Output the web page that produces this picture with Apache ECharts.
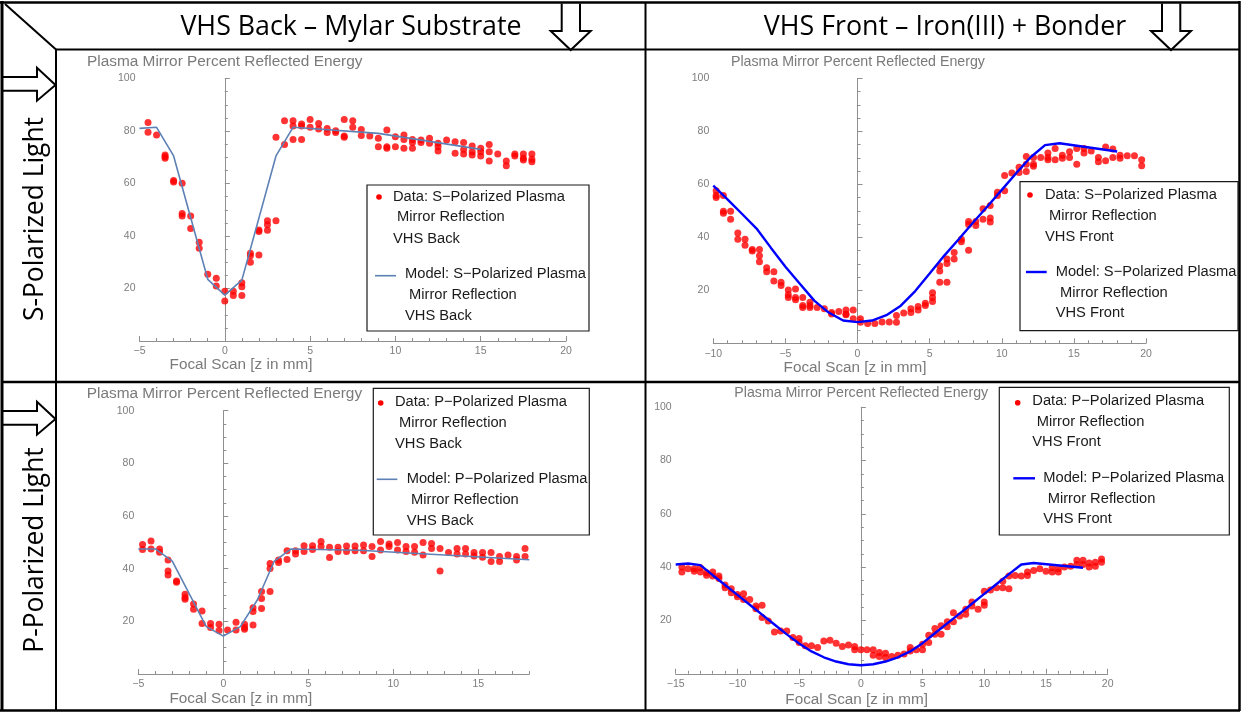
<!DOCTYPE html>
<html>
<head>
<meta charset="utf-8">
<script src="https://cdn.jsdelivr.net/npm/echarts@6/dist/echarts.min.js"></script>
<style>
  html, body { margin: 0; padding: 0; background: #ffffff; }
  #chart { width: 1244px; height: 712px; }
</style>
</head>
<body>
<div id="chart"></div>
<script>
// ---- Measured reflectance (percent) vs focal position z (mm) ----
const sBackData = [
  [-4.5,83.2],[-4.5,79.5],[-4,78.5],
  [-3.5,70.9],[-3.5,70.2],[-3.5,69.6],
  [-3,61.1],[-3,60.6],
  [-2.5,60.1],[-2.5,48.6],[-2.5,47.6],
  [-2,47.6],[-2,42.9],
  [-1.5,37.6],[-1.5,35.3],
  [-1,25.4],
  [-0.5,23.9],[-0.5,21.0],
  [0,19.0],[0,15.2],
  [0.5,19.0],[0.5,17.3],
  [1,22.2],[1,20.7],[1,17.3],
  [1.5,33.4],[1.5,32.5],[1.5,30.0],
  [2,42.3],[2,41.7],[2,32.8],
  [2.5,45.8],[2.5,44.3],[2.5,42.2],
  [3,45.8],[3,77.6],
  [3.5,83.9],[3.5,74.9],
  [4,83.9],[4,81.9],[4,76.8],
  [4.5,82.7],[4.5,81.9],[4.5,76.8],
  [5,84.4],[5,81.4],
  [5.5,82.9],[5.5,80.8],
  [6,81.0],[6,79.4],
  [6.5,80.1],[6.5,79.4],
  [7,84.4],[7,78.1],[7,77.6],
  [7.5,83.9],[7.5,81.4],
  [8,80.6],[8,78.3],
  [8.5,78.1],
  [9,77.2],[9,74.0],
  [9.5,80.4],[9.5,74.0],[9.5,73.4],
  [10,77.8],[10,74.0],
  [10.5,78.5],[10.5,76.8],[10.5,73.4],
  [11,76.8],[11,75.6],[11,73.4],
  [11.5,76.6],[11.5,75.6],
  [12,77.2],[12,75.3],
  [12.5,75.3],[12.5,74.0],[12.5,72.4],
  [13,76.6],
  [13.5,75.9],[13.5,71.5],
  [14,75.6],[14,73.0],[14,71.2],
  [14.5,74.3],[14.5,72.1],[14.5,70.9],
  [15,73.4],[15,72.1],[15,70.5],
  [15.5,74.9],[15.5,72.1],[15.5,68.6],
  [16,71.2],
  [16.5,68.6],[16.5,66.8],
  [17,71.2],[17,70.5],
  [17.5,71.2],[17.5,69.6],[17.5,69.0],
  [18,71.2],[18,69.2],[18,68.3]
];
const sBackModel = [[-5,81.0],[-4,81.4],[-3,70.5],[-1,23.5],[0,17.5],[1,23.2],[3,70.5],[4,81.4],[9,79.1],[15,73.0]];

const sFrontData = [
  [-9.8,57.6],[-9.8,55.8],[-9.8,55.0],
  [-9.3,55.8],[-9.3,49.8],[-9.3,49.1],
  [-8.8,49.8],[-8.8,46.8],
  [-8.3,41.6],[-8.3,39.3],
  [-7.8,39.3],[-7.8,37.0],
  [-7.3,35.4],[-7.3,34.8],
  [-6.8,35.4],[-6.8,33.0],[-6.8,30.8],
  [-6.3,28.5],[-6.3,27.0],
  [-5.8,27.0],[-5.8,23.5],
  [-5.3,23.0],[-5.3,21.8],
  [-4.8,20.1],[-4.8,18.3],[-4.8,17.3],
  [-4.3,20.5],[-4.3,17.3],[-4.3,16.4],
  [-3.8,17.3],[-3.8,14.3],[-3.8,13.5],
  [-3.3,15.5],[-3.3,14.3],[-3.3,13.5],
  [-2.8,13.5],
  [-2.3,13.0],
  [-1.8,11.6],[-1.8,11.1],
  [-1.3,12.0],
  [-0.8,12.6],[-0.8,11.1],[-0.8,10.8],
  [-0.3,12.6],[-0.3,9.3],
  [0.2,9.3],[0.2,7.9],
  [0.7,7.5],
  [1.2,7.5],
  [1.7,8.0],
  [2.2,8.0],
  [2.7,10.5],[2.7,7.9],
  [3.2,11.4],
  [3.7,13.0],[3.7,11.6],
  [4.2,13.9],[4.2,12.6],
  [4.7,15.1],[4.7,14.3],
  [5.2,19.1],[5.2,17.3],[5.2,15.8],
  [5.7,29.3],[5.7,27.3],[5.7,23.0],
  [6.2,31.8],[6.2,30.1],[6.2,23.0],
  [6.7,34.3],[6.7,31.8],
  [7.2,39.3],[7.2,38.3],
  [7.7,46.0],[7.7,44.8],[7.7,35.1],
  [8.2,46.0],[8.2,44.5],
  [8.7,50.8],[8.7,46.8],
  [9.2,52.0],[9.2,47.3],[9.2,45.8],
  [9.7,57.0],[9.7,55.8],
  [10.2,63.3],[10.2,57.6],
  [10.7,64.3],
  [11.2,66.4],[11.2,64.5],
  [11.7,70.5],[11.7,67.6],[11.7,64.8],
  [12.2,70.1],[12.2,67.6],[12.2,66.8],
  [12.7,70.1],
  [13.2,71.8],[13.2,70.1],[13.2,69.3],
  [13.7,73.5],[13.7,69.3],
  [14.2,71.0],[14.2,69.8],
  [14.7,72.3],[14.7,70.1],
  [15.2,73.5],[15.2,67.6],
  [15.7,73.5],[15.7,71.8],
  [16.2,72.6],
  [16.7,70.1],[16.7,68.5],
  [17.2,74.1],[17.2,68.9],
  [17.7,73.3],[17.7,70.1],
  [18.2,71.0],[18.2,69.8],
  [18.7,70.8],
  [19.2,70.8],
  [19.7,69.3],[19.7,67.0]
];
const sFrontModel = [
  [-10,59.5],[-9,54.2],[-8,48.8],[-7,43.3],[-6,36.0],[-5,28.9],[-4,22.5],[-3,16.1],
  [-2,11.6],[-1,8.6],[0,8.0],[1,8.6],[2,10.6],[3,14.2],[4,19.7],[5,26.3],[6,33.0],
  [7,39.2],[8,45.5],[9,51.6],[10,57.9],[11,64.2],[12,70.2],[13,74.8],[14,75.5],[18,72.4]
];

const pBackData = [
  [-4.75,49.2],[-4.75,47.3],
  [-4.25,50.5],[-4.25,47.5],
  [-3.75,47.5],[-3.75,46.2],
  [-3.25,43.3],[-3.25,39.1],[-3.25,37.6],
  [-2.75,35.3],[-2.75,34.8],
  [-2.25,30.3],[-2.25,29.1],[-2.25,28.4],
  [-1.75,26.6],[-1.75,24.6],
  [-1.25,23.9],[-1.25,19.2],
  [-0.75,19.2],[-0.75,17.7],
  [-0.25,18.9],[-0.25,16.5],
  [0.25,16.7],
  [0.75,19.7],[0.75,16.7],
  [1.25,18.9],[1.25,17.7],[1.25,17.0],
  [1.75,25.2],[1.75,23.7],[1.75,18.6],
  [2.25,31.3],[2.25,28.7],[2.25,24.9],
  [2.75,42.0],[2.75,40.1],[2.75,31.3],
  [3.25,43.3],[3.25,42.3],
  [3.75,46.8],[3.75,43.5],
  [4.25,46.8],[4.25,45.6],
  [4.75,48.7],[4.75,46.5],
  [5.25,48.7],[5.25,47.3],
  [5.75,50.3],[5.75,48.4],
  [6.25,48.1],[6.25,44.2],
  [6.75,48.1],[6.75,46.5],
  [7.25,48.6],[7.25,46.5],
  [7.75,48.6],[7.75,46.8],
  [8.25,49.0],[8.25,46.8],
  [8.75,48.4],[8.75,44.6],
  [9.25,50.3],[9.25,47.1],
  [9.75,49.4],[9.75,48.4],
  [10.25,49.9],[10.25,47.1],
  [10.75,48.4],[10.75,46.5],
  [11.25,48.4],[11.25,46.2],
  [11.75,49.9],[11.75,45.2],
  [12.25,49.6],[12.25,47.7],
  [12.75,47.7],[12.75,39.1],
  [13.25,46.1],
  [13.75,47.7],[13.75,45.6],
  [14.25,47.7],[14.25,45.6],
  [14.75,46.1],[14.75,44.8],
  [15.25,46.1],[15.25,44.3],
  [15.75,46.1],[15.75,42.7],
  [16.25,44.6],[16.25,42.7],
  [16.75,45.2],
  [17.25,44.6],[17.25,43.3],
  [17.75,47.7],[17.75,44.6]
];
const pBackModel = [[-5,47.5],[-4,47.5],[-3,42.9],[-1,18.0],[0,14.4],[1,18.0],[2,28.1],[3,42.9],[4,47.5],[8,47.0],[18,43.4]];

const pFrontData = [
  [-14.5,40.1],[-14.5,38.2],
  [-14,39.4],
  [-13.5,39.4],[-13.5,38.5],
  [-13,39.8],[-13,38.2],
  [-12.5,37.9],[-12.5,37.0],
  [-12,38.2],[-12,36.7],
  [-11.5,36.7],[-11.5,35.8],
  [-11,33.3],[-11,32.3],
  [-10.5,31.9],[-10.5,30.4],
  [-10,29.8],[-10,28.9],
  [-9.5,30.0],[-9.5,27.9],
  [-9,27.9],
  [-8.5,25.4],[-8.5,24.4],
  [-8,25.7],[-8,21.1],
  [-7.5,19.8],
  [-7,15.7],
  [-6.5,16.1],
  [-6,16.1],
  [-5.5,13.6],
  [-5,13.2],[-5,11.7],
  [-4.5,10.5],
  [-4,10.5],
  [-3.5,9.9],
  [-3,12.3],
  [-2.5,12.6],
  [-2,11.5],
  [-1.5,10.2],
  [-1,10.8],
  [-0.5,10.2],[-0.5,9.0],
  [0,9.0],
  [0.5,9.0],
  [1,9.0],[1,7.0],
  [1.5,8.0],[1.5,6.5],
  [2,7.7],[2,6.1],
  [2.5,6.5],
  [3,7.0],
  [3.5,7.4],
  [4,9.9],[4,8.6],
  [4.5,9.0],
  [5,11.1],[5,9.0],
  [5.5,14.5],[5.5,11.7],
  [6,17.0],[6,14.8],
  [6.5,18.0],[6.5,14.8],
  [7,19.5],[7,17.7],
  [7.5,22.9],[7.5,19.5],
  [8,21.7],
  [8.5,24.2],[8.5,22.3],
  [9,26.9],[9,25.4],
  [9.5,24.2],
  [10,31.0],[10,26.9],[10,25.7],
  [10.5,31.4],
  [11,32.3],
  [11.5,34.7],[11.5,32.3],
  [12,36.7],[12,31.9],
  [12.5,36.9],
  [13,36.7],
  [13.5,38.2],[13.5,36.9],
  [14,38.8],
  [14.5,39.4],
  [15,38.5],
  [15.5,39.8],[15.5,38.2],
  [16,39.4],[16,38.2],
  [16.5,40.1],
  [17,40.4],
  [17.5,42.6],[17.5,41.0],
  [18,42.6],[18,41.0],
  [18.5,41.6],[18.5,40.1],
  [19,41.9],[19,40.4],
  [19.5,43.1],[19.5,41.9]
];
const pFrontModel = [
  [-15,41.0],[-14,41.4],[-13,40.8],[-12,37.0],[-11,33.3],[-10,29.6],[-9,25.9],[-8,22.2],
  [-7,18.5],[-6,14.8],[-5,11.4],[-4,8.4],[-3,6.2],[-2,4.6],[-1,3.6],[0,3.2],[1,3.6],
  [2,4.6],[3,6.2],[4,8.4],[5,11.5],[6,15.2],[7,18.9],[8,22.6],[9,26.3],[10,30.0],
  [11,33.7],[12,37.4],[13,41.0],[14,41.6],[18,39.8]
];

// ---- Text ----
const headerLabels = ['VHS Back \u2013 Mylar Substrate', 'VHS Front \u2013 Iron(III) + Bonder'];
const rowLabels = ['S-Polarized Light', 'P-Polarized Light'];
const plotTitle = 'Plasma Mirror Percent Reflected Energy';
const axisTitle = 'Focal Scan [z in mm]';
const sBackLegend = ['Data: S\u2212Polarized Plasma', 'Mirror Reflection', 'VHS Back', 'Model: S\u2212Polarized Plasma', 'Mirror Reflection', 'VHS Back'];
const sFrontLegend = ['Data: S\u2212Polarized Plasma', 'Mirror Reflection', 'VHS Front', 'Model: S\u2212Polarized Plasma', 'Mirror Reflection', 'VHS Front'];
const pBackLegend = ['Data: P\u2212Polarized Plasma', 'Mirror Reflection', 'VHS Back', 'Model: P\u2212Polarized Plasma', 'Mirror Reflection', 'VHS Back'];
const pFrontLegend = ['Data: P\u2212Polarized Plasma', 'Mirror Reflection', 'VHS Front', 'Model: P\u2212Polarized Plasma', 'Mirror Reflection', 'VHS Front'];

// ---- Styling ----
const FONT = '"Liberation Sans", Arial, sans-serif';
const HEAD_FONT = '"Open Sans", sans-serif';
const AXIS_GRAY = '#8f8f8f';
const LABEL_GRAY = '#7d7d7d';
const TITLE_GRAY = '#7a7a7a';
const BACK_BLUE = '#5e81b5';
const FRONT_BLUE = '#0000ff';
const DOT_RED = '#ff0000';

// Layout of the four panels (pixel placement of plot areas, titles and legends)
const panels = [
  { data: sBackData, model: sBackModel, legendText: sBackLegend, xMin: -5, xMax: 20,
    color: BACK_BLUE, lw: 1.6, titleSize: 15.4,
    grid: { left: 139.5, top: 78.5, width: 426.5, height: 262.5 },
    titleAt: [87, 62], axisTitleAt: [241, 365],
    legend: { box: [367, 185, 222, 146], dot: [379, 197], line: [375, 396, 275.7],
      rows: [[393,196.7],[397,217],[393,238.7],[405,274],[409,295],[405,316]] } },
  { data: sFrontData, model: sFrontModel, legendText: sFrontLegend, xMin: -10, xMax: 20,
    color: FRONT_BLUE, lw: 2.4, titleSize: 14.2,
    grid: { left: 713.3, top: 78.3, width: 432.7, height: 265 },
    titleAt: [731, 62], axisTitleAt: [855, 368],
    legend: { box: [1020, 181.7, 218, 149], dot: [1030, 195], line: [1026, 1046.7, 272],
      rows: [[1045,195],[1049,216],[1045,236.7],[1055.7,272],[1060,293],[1055.7,313]] } },
  { data: pBackData, model: pBackModel, legendText: pBackLegend, xMin: -5, xMax: 18,
    color: BACK_BLUE, lw: 1.6, titleSize: 15.4, oddEnd: true,
    grid: { left: 138.3, top: 410.7, width: 391, height: 263.3 },
    titleAt: [86.7, 394], axisTitleAt: [240.8, 698.3],
    legend: { box: [373.3, 388.3, 216, 146.7], dot: [380.7, 403], line: [376.7, 397.3, 479.3],
      rows: [[395,402.3],[399,422.7],[395,443.7],[406.7,479.3],[411,500],[406.7,521]] } },
  { data: pFrontData, model: pFrontModel, legendText: pFrontLegend, xMin: -15, xMax: 20,
    color: FRONT_BLUE, lw: 2.4, titleSize: 14.2,
    grid: { left: 675.7, top: 407.3, width: 432, height: 266.5 },
    titleAt: [734.3, 392.7], axisTitleAt: [856.7, 700],
    legend: { box: [999.3, 387.3, 230, 147.7], dot: [1017.7, 402.7], line: [1013.3, 1035, 478.3],
      rows: [[1032.3,401],[1036.7,421.7],[1032.3,442],[1043.3,478.3],[1047.7,499],[1043.3,519.3]] } }
];

const minusFmt = v => String(v).replace('-', '\u2212');

const grids = [], xAxes = [], yAxes = [], series = [], graphics = [];

panels.forEach((p, i) => {
  grids.push(Object.assign({ containLabel: false }, p.grid));

  const labelStyle = { color: LABEL_GRAY, fontSize: 10.5, fontFamily: FONT, margin: 5 };
  const xIndex = xAxes.length;
  if (!p.oddEnd) {
    xAxes.push({
      type: 'value', gridIndex: i, position: 'bottom', min: p.xMin, max: p.xMax, interval: 5,
      axisLine: { onZero: true, lineStyle: { color: AXIS_GRAY, width: 1 } },
      axisTick: { inside: true, length: 5, lineStyle: { color: AXIS_GRAY } },
      minorTick: { show: true, splitNumber: 5, length: 3, lineStyle: { color: AXIS_GRAY } },
      axisLabel: Object.assign({ formatter: minusFmt }, labelStyle),
      splitLine: { show: false }, minorSplitLine: { show: false }
    });
  } else {
    // axis ending between major ticks: unit ticks plus an overlaid set of long ticks
    xAxes.push({
      type: 'value', gridIndex: i, position: 'bottom', min: p.xMin, max: p.xMax, interval: 1,
      axisLine: { onZero: true, lineStyle: { color: AXIS_GRAY, width: 1 } },
      axisTick: { inside: true, length: 3, lineStyle: { color: AXIS_GRAY } },
      axisLabel: Object.assign({ formatter: v => (v % 5 === 0 ? minusFmt(v) : '') }, labelStyle),
      splitLine: { show: false }
    });
    xAxes.push({
      type: 'value', gridIndex: i, position: 'bottom', min: p.xMin, max: p.xMax, interval: 5,
      axisLine: { show: false },
      axisTick: { inside: true, length: 5, lineStyle: { color: AXIS_GRAY },
                  customValues: [-5, 0, 5, 10, 15] },
      axisLabel: { show: false },
      splitLine: { show: false }
    });
  }
  yAxes.push({
    type: 'value', gridIndex: i, min: 0, max: 100, interval: 20,
    axisLine: { onZero: true, lineStyle: { color: AXIS_GRAY, width: 1 } },
    axisTick: { inside: true, length: 5, lineStyle: { color: AXIS_GRAY } },
    minorTick: { show: true, splitNumber: 4, length: 3, lineStyle: { color: AXIS_GRAY } },
    axisLabel: { color: LABEL_GRAY, fontSize: 10.5, fontFamily: FONT, margin: 4, showMinLabel: false },
    splitLine: { show: false }, minorSplitLine: { show: false }
  });

  series.push({
    type: 'scatter', xAxisIndex: xIndex, yAxisIndex: i, data: p.data,
    symbol: 'circle', symbolSize: 7, itemStyle: { color: DOT_RED }, z: 2,
    silent: true, animation: false
  });
  series.push({
    type: 'line', xAxisIndex: xIndex, yAxisIndex: i, data: p.model,
    showSymbol: false, lineStyle: { color: p.color, width: p.lw }, z: 3,
    silent: true, animation: false
  });

  // plot title and axis title
  graphics.push({ type: 'text', x: p.titleAt[0], y: p.titleAt[1], z: 20,
    style: { text: plotTitle, font: p.titleSize + 'px ' + FONT, fill: TITLE_GRAY, verticalAlign: 'middle', align: 'left' } });
  graphics.push({ type: 'text', x: p.axisTitleAt[0], y: p.axisTitleAt[1], z: 20,
    style: { text: axisTitle, font: '15.3px ' + FONT, fill: TITLE_GRAY, verticalAlign: 'middle', align: 'center' } });

  // legend frame with marker samples and labels
  const L = p.legend;
  graphics.push({ type: 'rect', z: 20, shape: { x: L.box[0], y: L.box[1], width: L.box[2], height: L.box[3] },
    style: { fill: '#ffffff', stroke: '#1a1a1a', lineWidth: 1.2 } });
  graphics.push({ type: 'circle', z: 21, shape: { cx: L.dot[0], cy: L.dot[1], r: 2.8 }, style: { fill: DOT_RED } });
  graphics.push({ type: 'line', z: 21, shape: { x1: L.line[0], y1: L.line[2], x2: L.line[1], y2: L.line[2] },
    style: { stroke: p.color, lineWidth: p.lw } });
  L.rows.forEach((pos, k) => {
    graphics.push({ type: 'text', x: pos[0], y: pos[1], z: 21,
      style: { text: p.legendText[k], font: '14.7px ' + FONT, fill: '#1a1a1a', verticalAlign: 'middle', align: 'left' } });
  });
});

// ---- Table frame ----
const frameLines = [
  [0, 2.5, 1240, 2.5, 2.5], [2, 1, 2, 711, 3], [1239.5, 1, 1239.5, 711, 2.5], [0, 710.5, 1240, 710.5, 2.5],
  [56, 49.5, 1239, 49.5, 2], [2, 382, 1239, 382, 2.5], [56, 49, 56, 711, 2], [645.5, 2, 645.5, 711, 2],
  [5, 4, 56, 49.5, 2]
];
frameLines.forEach(l => graphics.push({ type: 'line', z: 30,
  shape: { x1: l[0], y1: l[1], x2: l[2], y2: l[3] }, style: { stroke: '#000000', lineWidth: l[4] } }));

// hollow block arrows: downward in the header, rightward in the row labels
function downArrow(cx) {
  return [[cx - 9, 3.5], [cx - 9, 31], [cx - 20, 31], [cx, 50], [cx + 20, 31], [cx + 9.3, 31], [cx + 9.3, 3.5]];
}
function rightArrow(cy) {
  return [[3, cy - 8], [37, cy - 8], [37, cy - 17.3], [55.5, cy], [37, cy + 15.7], [37, cy + 5.7], [3, cy + 5.7]];
}
[downArrow(570.7), downArrow(1171)].concat([rightArrow(85), rightArrow(419)]).forEach(pts => {
  graphics.push({ type: 'polyline', z: 31, shape: { points: pts },
    style: { stroke: '#000000', lineWidth: 2, fill: null } });
});

// column and row headings
const HEAD_SIZE = '26.8px ';
graphics.push({ type: 'text', x: 351, y: 27, z: 31,
  style: { text: headerLabels[0], font: HEAD_SIZE + HEAD_FONT, fill: '#000', align: 'center', verticalAlign: 'middle' } });
graphics.push({ type: 'text', x: 945, y: 27, z: 31,
  style: { text: headerLabels[1], font: HEAD_SIZE + HEAD_FONT, fill: '#000', align: 'center', verticalAlign: 'middle' } });
graphics.push({ type: 'text', x: 35, y: 219, rotation: Math.PI / 2, z: 31,
  style: { text: rowLabels[0], font: '26.4px ' + HEAD_FONT, fill: '#000', align: 'center', verticalAlign: 'middle' } });
graphics.push({ type: 'text', x: 35, y: 550, rotation: Math.PI / 2, z: 31,
  style: { text: rowLabels[1], font: '26.4px ' + HEAD_FONT, fill: '#000', align: 'center', verticalAlign: 'middle' } });

const chart = echarts.init(document.getElementById('chart'), null, { renderer: 'canvas' });
chart.setOption({
  backgroundColor: '#ffffff',
  animation: false,
  grid: grids,
  xAxis: xAxes,
  yAxis: yAxes,
  series: series,
  graphic: { elements: graphics }
});
</script>
</body>
</html>
